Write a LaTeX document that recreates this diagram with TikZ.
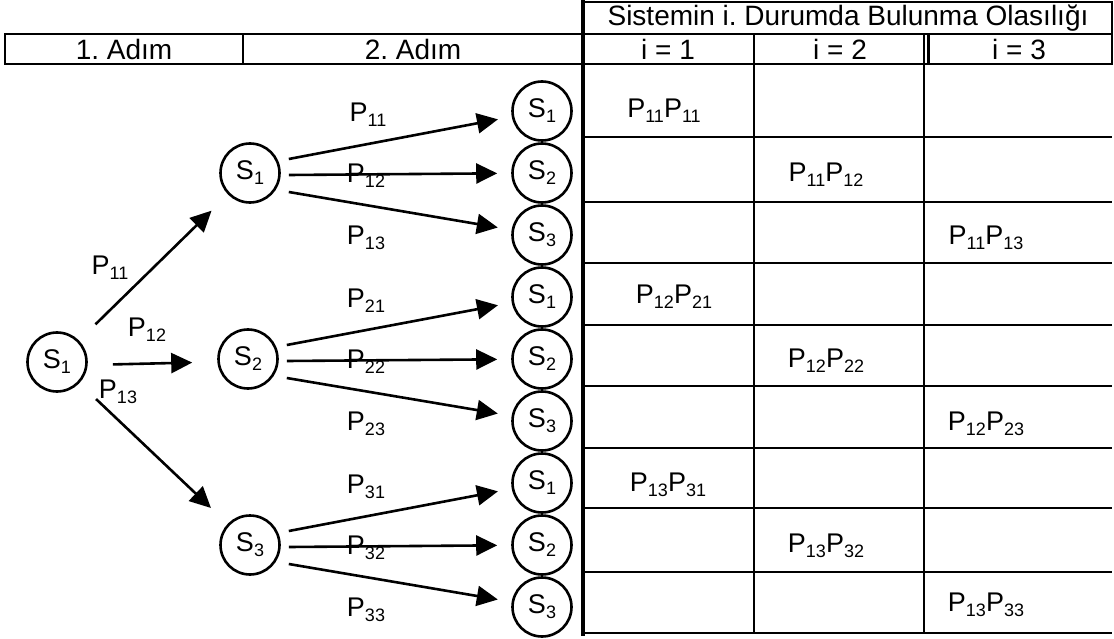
\documentclass[tikz,border=0pt]{standalone}
\usepackage{fontspec}
\setmainfont{Liberation Sans}
\usetikzlibrary{arrows.meta}
\newcommand\sbx[1]{\raisebox{-0.35ex}{\fontsize{18}{18}\selectfont #1}}
\frenchspacing
\begin{document}
\begin{tikzpicture}[x=1pt,y=-1pt,
  st/.style={circle,draw,line width=2.6pt,minimum size=59pt,inner sep=0pt,font=\fontsize{27}{27}\selectfont},
  lbl/.style={font=\fontsize{27}{27}\selectfont,inner sep=0pt},
  hdr/.style={font=\fontsize{28}{28}\selectfont,inner sep=0pt},
  arr/.style={line width=2.6pt,-{Triangle[length=21pt,width=20pt]}},
  gridl/.style={line width=2.2pt}]
\useasboundingbox (0,0) rectangle (1114,639);
% header
\draw[gridl] (583,2) rectangle (1112,34);
\draw[gridl] (5,34) rectangle (1112,64);
\draw[gridl] (243,34) -- (243,64);
\draw[gridl] (754,34) -- (754,633);
\draw[gridl] (924,34) -- (924,633);
\draw[gridl] (928.5,34) -- (928.5,64);
\draw[line width=3.2pt] (583,0) -- (583,636);
\node[hdr] (h0) at (848,18) {Sistemin i. Durumda Bulunma Olasılığı};
\node[hdr] (h1) at (124,49) {1. Adım};
\node[hdr] (h2) at (413,49) {2. Adım};
\node[hdr] (h3) at (668,49) {i = 1};
\node[hdr] (h4) at (840,49) {i = 2};
\node[hdr] (h5) at (1019,49) {i = 3};
% table rows
\foreach \yy in {137,202,263,325,386,448,508,572,633}
  \draw[gridl] (583,\yy) -- (1112,\yy);
% table entries
\node[lbl] (t11) at (664,111) {P\sbx{11}P\sbx{11}};
\node[lbl] (t12) at (826,175) {P\sbx{11}P\sbx{12}};
\node[lbl] (t13) at (986,238) {P\sbx{11}P\sbx{13}};
\node[lbl] (t21) at (674,297) {P\sbx{12}P\sbx{21}};
\node[lbl] (t22) at (826,361) {P\sbx{12}P\sbx{22}};
\node[lbl] (t23) at (986,424) {P\sbx{12}P\sbx{23}};
\node[lbl] (t31) at (668,485) {P\sbx{13}P\sbx{31}};
\node[lbl] (t32) at (826,546) {P\sbx{13}P\sbx{32}};
\node[lbl] (t33) at (986,605) {P\sbx{13}P\sbx{33}};
% tree nodes
\node[st] (r) at (57,362) {S\sbx{1}};
\node[st] (a1) at (250,173) {S\sbx{1}};
\node[st] (a2) at (248,359) {S\sbx{2}};
\node[st] (a3) at (250,545) {S\sbx{3}};
\node[st] (b1) at (542,111) {S\sbx{1}};
\node[st] (b2) at (542,173) {S\sbx{2}};
\node[st] (b3) at (542,235) {S\sbx{3}};
\node[st] (b4) at (542,297) {S\sbx{1}};
\node[st] (b5) at (542,359) {S\sbx{2}};
\node[st] (b6) at (542,421) {S\sbx{3}};
\node[st] (b7) at (542,483) {S\sbx{1}};
\node[st] (b8) at (542,545) {S\sbx{2}};
\node[st] (b9) at (542,607) {S\sbx{3}};
% labels
\node[lbl] (l11) at (110,268) {P\sbx{11}};
\node[lbl] (l12) at (147,330) {P\sbx{12}};
\node[lbl] (l13) at (118,392) {P\sbx{13}};
\node[lbl] (m11) at (368,115) {P\sbx{11}};
\node[lbl] (m12) at (366,176) {P\sbx{12}};
\node[lbl] (m13) at (366,238) {P\sbx{13}};
\node[lbl] (m21) at (366,301) {P\sbx{21}};
\node[lbl] (m22) at (366,362) {P\sbx{22}};
\node[lbl] (m23) at (366,424) {P\sbx{23}};
\node[lbl] (m31) at (366,487) {P\sbx{31}};
\node[lbl] (m32) at (366,548) {P\sbx{32}};
\node[lbl] (m33) at (366,610) {P\sbx{33}};
% arrows from root
\draw[arr,shorten <=23pt,shorten >=23pt] (r) -- (a1);
\draw[arr,shorten <=25pt,shorten >=25pt] ([yshift=-3pt]r.east) -- ([yshift=-3pt]a2.west);
\draw[arr,shorten <=23pt,shorten >=23pt] (r) -- (a3);
% second-step arrows
\draw[arr,shorten >=14pt] ([shift={(8,-14)}]a1.east) -- (b1);
\draw[arr,shorten >=14pt] ([shift={(8,2)}]a1.east) -- (b2);
\draw[arr,shorten >=14pt] ([shift={(8,19)}]a1.east) -- (b3);
\draw[arr,shorten >=14pt] ([shift={(8,-14)}]a2.east) -- (b4);
\draw[arr,shorten >=14pt] ([shift={(8,2)}]a2.east) -- (b5);
\draw[arr,shorten >=14pt] ([shift={(8,19)}]a2.east) -- (b6);
\draw[arr,shorten >=14pt] ([shift={(8,-14)}]a3.east) -- (b7);
\draw[arr,shorten >=14pt] ([shift={(8,2)}]a3.east) -- (b8);
\draw[arr,shorten >=14pt] ([shift={(8,19)}]a3.east) -- (b9);
\end{tikzpicture}
\end{document}
